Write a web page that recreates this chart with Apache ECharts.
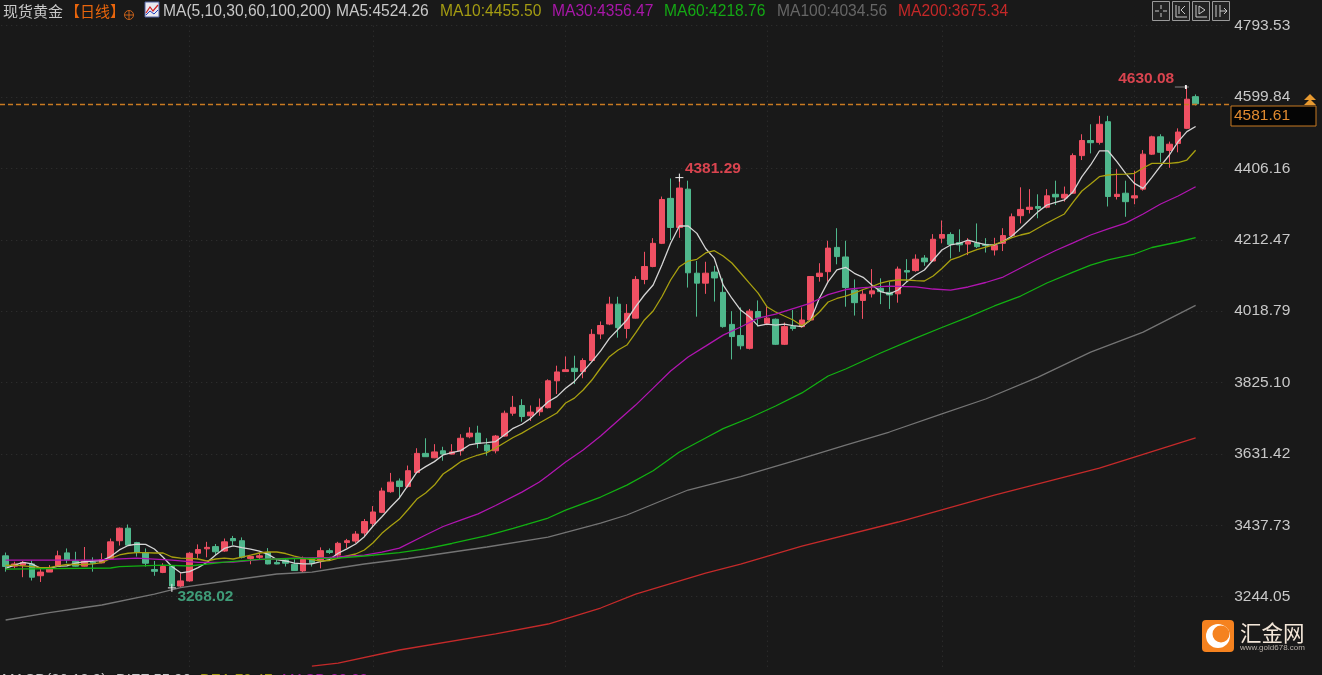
<!DOCTYPE html>
<html lang="zh-CN">
<head>
    <meta charset="UTF-8">
    <title>现货黄金 日线</title>
    <style>
        html, body { margin: 0; padding: 0; background: #191919; overflow: hidden; }
        #main { width: 1322px; height: 675px; }
    </style>
</head>
<body>
<div id="main"></div>
<script src="https://cdn.jsdelivr.net/npm/echarts@6/dist/echarts.min.js"></script>
<script>
    const yTicks = [3244.05, 3437.73, 3631.42, 3825.10, 4018.79, 4212.47, 4406.16, 4599.84, 4793.53]
    const monthStarts = [21, 42, 64, 87, 107, 129]
    const lastPrice = 4581.61

    // open, close, low, high
    const candles = [
        [3355,3326,3312,3364],[3327,3333,3321,3339],[3330,3337,3297,3341],[3333,3297,3288,3342],[3301,3311,3284,3321],
        [3311,3321,3311,3330],[3326,3355,3326,3369],[3363,3344,3335,3375],[3341,3327,3326,3366],[3327,3341,3326,3379],
        [3338,3335,3312,3351],[3336,3345,3335,3362],[3348,3393,3344,3402],[3396,3430,3383,3432],[3430,3384,3383,3440],
        [3391,3364,3353,3393],[3364,3335,3326,3375],[3318,3313,3301,3341],[3310,3326,3308,3335],[3326,3273,3268.02,3328],
        [3273,3287,3269.5,3308],[3287,3362,3285,3365],[3362,3372,3348,3386],[3374,3378,3351,3393],[3380,3366,3357,3387],
        [3368,3393,3366,3402],[3402,3396,3384,3409],[3396,3351,3348,3405],[3348,3353,3332,3355],[3351,3355,3344,3362],
        [3364.5,3333,3332,3376],[3337,3333,3332,3345.5],[3344,3335,3326,3348],[3332,3315,3314,3345.5],[3314,3345.5,3311,3353],
        [3345,3336,3326,3347],[3344,3369,3321,3378],[3369,3364,3360,3375],[3357,3389,3348,3393],[3391,3396,3376,3401],
        [3395,3414,3390,3422],[3417,3448,3407,3455],[3443,3474,3436,3490],[3473,3531,3471,3540],[3529,3555,3526,3580],
        [3558,3543,3511,3565],[3543,3586,3540,3600],[3581,3633,3579,3647],[3633,3624,3624,3674],[3621,3637,3620,3658],
        [3640,3631,3613,3651],[3631,3637,3630,3658],[3640,3674,3627,3685],[3678,3688,3674,3704],[3688,3660,3647,3708],
        [3656,3640,3627,3674],[3640,3680,3633,3683],[3680,3742,3678,3749],[3742,3758,3735,3789],[3763,3733,3719,3780],
        [3735,3745,3721,3763],[3746,3758,3735,3782],[3757,3830,3755,3834],[3830,3854,3794,3871],[3855,3860,3855,3896],
        [3864,3855,3821,3898],[3855,3885,3837,3891],[3885,3956,3882,3970],[3957,3980,3943,3991],[3984,4038,3981,4058],
        [4038,3974,3947,4058],[3972,4013,3945,4038],[4000,4105,3999,4114],[4105,4140,4092,4180],[4140,4203,4138,4217],
        [4203,4322,4201,4330],[4325,4246,4212,4379],[4246,4353,4218,4381.29],[4350,4123,4083,4373],[4122,4095,4004,4155],
        [4095,4122,4066,4153],[4125,4109,4045,4142],[4070,3977,3974,4108],[3983,3950,3888,4019],[3953,3925,3915,4029],
        [3918,4019,3915,4025],[4018,4001,3977,4048],[3986,4000,3981,4031],[3997,3929,3927,3999],[3929,3977,3927,3988],
        [3977,3972,3966,4022],[3977,3995,3974,4029],[3995,4113,3993,4114],[4113,4122,4099,4149],[4126,4190,4099,4210],
        [4192,4167,4146,4244],[4166,4083,4031,4210],[4076,4042,4007,4105],[4048,4065,3998,4076],[4066,4074,4056,4133],
        [4081,4072,4038,4108],[4070,4063,4025,4099],[4066,4133,4042,4140],[4129,4125,4097,4160],[4129,4160,4126,4173],
        [4163,4153,4142,4171],[4155,4214,4153,4228],[4217,4227,4203,4265],[4227,4200,4162,4233],[4205,4199,4180,4241],
        [4201,4208,4171,4217],[4204,4194,4190,4257],[4200,4197,4178,4217],[4185,4197,4170,4218],[4203,4224,4182,4244],
        [4224,4275,4222,4284],[4278,4295,4257,4355],[4295,4301,4284,4350],[4303,4298,4271,4336],[4301,4332,4298,4350],
        [4336,4329,4307,4373],[4326,4336,4316,4357],[4339,4441,4337,4447],[4441,4482,4429,4499],[4482,4476,4447,4526],
        [4477,4526,4471,4549],[4533,4330,4303,4549],[4330,4336,4322,4404],[4339,4316,4275,4373],[4326,4332,4309,4400],
        [4350,4445,4346,4456],[4445,4492,4443,4495],[4492,4450,4423,4499],[4455,4472,4408,4479],[4474,4505,4450,4515],
        [4515,4594,4513,4630.08],[4601,4581.61,4577,4607]
    ]

    const ma5 = [
        3321,3330,3337,3333,3321,3321,3327,3328,3335,3339,3341,3342,3353,3371,3383,3387,3386,3373.5,3351,3326,
        3309,3312,3323,3337,3357,3375,3382,3377,3373,3368,3359,3345,3341,3335,3333,3333,3339,3345,3362,3374,
        3387,3407,3436,3461,3487.5,3512,3547,3582,3597,3610.6,3628.7,3635,3640.4,3655.8,3660,3662,3665,3683,3701,3712,
        3728,3750.8,3773,3787,3809.6,3827.7,3854.8,3882,3911,3945,3970,3995,4031,4062.8,4090,4144,4203,4250,4250,4230,
        4189,4162,4090,4054,4022,4004,3979,3984,3981,3984,3979.6,3977,3995,4054,4099,4130.7,4138,4121.6,4110.8,4090,
        4072,4065.6,4076.4,4099,4117,4130.7,4157.8,4185,4198.5,4203,4212,4204.8,4199.4,4198.5,4207.5,4222.9,4243.7,4266.3,4289,4307,
        4314,4320.6,4343,4383.9,4415.6,4453.6,4453.6,4424.6,4393,4365.8,4352,4382,4412.9,4442.7,4478.9,4506,4520
    ]
    const ma10 = [
        3328.8,3330,3328,3325.5,3322.8,3322.8,3328,3331.5,3331.5,3331.5,3333,3336.4,3348.3,3357.3,3362,3363.5,3363.5,3362.7,3362.7,3351.8,
        3349,3348.3,3346.4,3341,3346.4,3349,3346.4,3351.8,3357.2,3362.7,3365.4,3365.4,3361.3,3354.5,3349,3345,3341,3342.3,3349,3354.6,
        3360,3370.8,3390.6,3416,3436,3454,3480.7,3509,3525.5,3547,3577,3593,3610.5,3620.5,3628.6,3634.9,3647.6,3662,3676,3688,
        3701.9,3715.4,3729,3742.6,3769.7,3783,3805,3832,3864.7,3895.4,3913.5,3927,3959.7,3995,4019.4,4058,4103.5,4139.6,4155,4159.7,
        4176.8,4183,4168.6,4149.6,4122.5,4095,4068,4031,4016.7,4005.8,3995,3979.5,3995,4016.7,4043.8,4053.3,4060,4068,4077.7,4085.3,
        4095.3,4100.8,4103.5,4103.5,4102,4100.8,4114.3,4134.7,4157.8,4166,4176.8,4186,4193,4199.8,4208,4218.3,4225.6,4231,4244.6,4258,
        4270.4,4282.6,4315,4345,4364,4383.8,4388.4,4390,4391,4393,4407.4,4420,4420,4420,4422.3,4429,4455.5
    ]
    // slower averages, read every few bars: [bar index, value]
    const ma30 = [
        [0,3343.6],[10,3343.6],[15,3349],[19,3343.6],[22,3337],[26,3338],[29,3345],[33,3349],[37,3350.5],[41,3357.2],[43,3365],[45,3376],
        [48,3411.5],[50,3434.6],[52,3452],[54,3469],[56,3491.6],[59,3528],[61,3555.4],[62,3573],[64,3609.6],[66,3642],[68,3680],[70,3722],
        [72,3764],[74,3810],[76,3856.6],[78,3894.5],[80,3924],[82,3954],[84,3976],[86,4000],[88,4011],[90,4026],[92,4041],[94,4064],
        [96,4077.7],[98,4083],[101,4087],[104,4085],[106,4079],[108,4076],[110,4084.5],[112,4096.7],[114,4111.6],[116,4136],[118,4160.5],
        [120,4183.6],[122,4204],[124,4225.6],[126,4241.9],[128,4258],[130,4282.6],[132,4309.7],[134,4331.4],[136,4356.47]
    ]
    const ma60 = [
        [0,3319.2],[12,3322],[13,3325.5],[18,3330],[21,3327.4],[25,3338],[29,3345.5],[33,3347.8],[38,3349],[41,3354.5],[45,3363.5],[48,3373.6],
        [51,3388.5],[55,3409.6],[58,3429.7],[62,3457.6],[64,3479],[68,3514.6],[71,3547],[74,3586],[77,3636.8],[80,3674.7],[82,3700],[85,3729],
        [88,3761.6],[91,3797],[94,3843],[96,3862],[100,3905.4],[104,3946],[107,3974.6],[110,4003],[113,4033],[116,4060],[119,4095.3],[122,4125],
        [124,4144],[126,4157.8],[129,4174],[131,4191.7],[134,4206.6],[136,4218.76]
    ]
    const ma100 = [
        [0,3180.9],[5,3200.7],[9,3214.8],[11,3221.6],[17,3251.4],[20,3269],[26,3289.4],[31,3305.7],[35,3311],[38,3322],[41,3332.8],[46,3347.8],
        [55,3379],[62,3406],[68,3444],[71,3465.8],[76,3514.6],[78,3533.6],[84,3569.7],[90,3612],[96,3655.7],[101,3691],[107,3739.9],[112,3780.6],
        [118,3840],[124,3908],[130,3962],[136,4034.56]
    ]
    const ma200 = [
        [35,3056],[38,3064],[45,3099.5],[56,3143],[62,3170],[68,3213.4],[72,3251],[80,3308],[84,3332.8],[91,3381.6],[102,3446.8],[113,3520],
        [125,3593],[136,3675.34]
    ]

    // 137 bars plus three empty slots before the price scale
    const categories = Array.from({length: 140}, (_, i) => String(i))

    const RED = '#ef5063'
    const GREEN = '#4fb78c'
    const ORANGE = '#c87a22'
    const FONT = '"Liberation Sans", Arial, sans-serif'
    const CJK = '"Noto Sans CJK SC", sans-serif'

    function maSeries(name, data, color) {
        return {
            name: name,
            type: 'line',
            data: data,
            showSymbol: false,
            silent: true,
            connectNulls: true,
            lineStyle: {color: color, width: 1.3},
            z: 3
        }
    }

    function headText(x, text, color, font) {
        return {
            type: 'text', x: x, y: 11.5,
            style: {text: text, fill: color, font: font || '15.6px ' + FONT, verticalAlign: 'middle'}
        }
    }

    function toolButton(x) {
        return {
            type: 'rect', shape: {x: x, y: 1.5, width: 17, height: 19},
            style: {fill: '#222', stroke: '#9a9a9a', lineWidth: 1}
        }
    }

    // stroke-only bits of the small icons
    function stroke(points, color, width) {
        return {type: 'polyline', shape: {points: points}, style: {fill: 'none', stroke: color || '#c8c8c8', lineWidth: width || 1}}
    }

    let chart = echarts.init(document.querySelector('#main'))
    chart.setOption({
        backgroundColor: '#191919',
        animation: false,
        grid: {left: 1.25, width: 1225, top: 25.7, height: 642.4},
        xAxis: {
            type: 'category',
            data: categories,
            axisLine: {show: false},
            axisLabel: {show: false},
            axisTick: {show: false, alignWithLabel: true},
            splitLine: {
                show: true,
                alignWithLabel: true,
                interval: i => monthStarts.includes(i),
                lineStyle: {color: '#333', type: [1, 4]}
            }
        },
        yAxis: {
            type: 'value',
            position: 'right',
            min: 3050.365,
            max: 4793.53,
            axisLine: {show: false},
            axisTick: {show: false, customValues: yTicks},
            axisLabel: {
                customValues: yTicks,
                margin: 8,
                color: '#c8c8c8',
                fontFamily: FONT,
                fontSize: 15.5,
                formatter: v => v.toFixed(2)
            },
            splitLine: {
                show: true,
                customValues: yTicks,
                lineStyle: {color: '#333', type: [1, 4]}
            }
        },
        series: [
            {
                type: 'candlestick',
                data: candles,
                barWidth: 6,
                silent: true,
                itemStyle: {color: RED, color0: GREEN, borderColor: RED, borderColor0: GREEN, borderWidth: 1},
                markLine: {
                    silent: true,
                    symbol: 'none',
                    label: {show: false},
                    lineStyle: {color: ORANGE, type: [5, 3], width: 1.3},
                    data: [[{x: 0, yAxis: lastPrice}, {x: 1231, yAxis: lastPrice}]]
                },
                markPoint: {
                    silent: true,
                    symbol: 'path://M0 4H8M4 0V8',
                    symbolSize: 8,
                    itemStyle: {color: 'none', borderColor: '#f0f0f0', borderWidth: 1},
                    label: {fontFamily: FONT, fontSize: 15.5, fontWeight: 'bold'},
                    data: [
                        {
                            coord: [77, 4381.29],
                            label: {formatter: '4381.29', color: '#d9444f', position: 'right', offset: [-6, -9]}
                        },
                        {
                            coord: [19, 3268.02],
                            label: {formatter: '3268.02', color: '#3f9c78', position: 'right', offset: [-6, 9]}
                        },
                        {
                            coord: [135, 4630.08],
                            symbol: 'path://M0 2H14M11 0V4',
                            symbolSize: [14, 4],
                            symbolOffset: [-5, 1],
                            label: {formatter: '4630.08', color: '#d9444f', position: 'left', offset: [9, -8]}
                        }
                    ]
                }
            },
            maSeries('MA5', ma5, '#d4d4d4'),
            maSeries('MA10', ma10, '#a8a010'),
            maSeries('MA30', ma30, '#b015b0'),
            maSeries('MA60', ma60, '#12b012'),
            maSeries('MA100', ma100, '#747474'),
            maSeries('MA200', ma200, '#c42a2a')
        ],
        graphic: [
            headText(3, '现货黄金', '#c8c8c8', '15px ' + CJK),
            headText(65, '【日线】', '#e8650c', '15px ' + CJK),
            {type: 'circle', shape: {cx: 129, cy: 15, r: 4.5}, style: {fill: 'none', stroke: '#c8621a', lineWidth: 1}},
            stroke([[124.5, 15], [133.5, 15]], '#c8621a'),
            stroke([[129, 10.5], [129, 19.5]], '#c8621a'),
            {type: 'rect', shape: {x: 145, y: 2, width: 14, height: 15}, style: {fill: '#e8e8f0', stroke: '#5060a0', lineWidth: 1}},
            stroke([[146, 13], [150, 7], [153, 11], [158, 5]], '#d02020', 1.2),
            stroke([[146, 15], [150, 11], [154, 14], [158, 10]], '#2040c0'),
            headText(163, 'MA(5,10,30,60,100,200)', '#c8c8c8'),
            headText(336, 'MA5:4524.26', '#c8c8c8'),
            headText(440, 'MA10:4455.50', '#a49c12'),
            headText(552, 'MA30:4356.47', '#a817a8'),
            headText(664, 'MA60:4218.76', '#14a814'),
            headText(777, 'MA100:4034.56', '#666666'),
            headText(898, 'MA200:3675.34', '#c42828'),
            toolButton(1152.5), toolButton(1172.5), toolButton(1192.5), toolButton(1212.5),
            stroke([[1161, 5], [1161, 9]]), stroke([[1161, 13], [1161, 17]]),
            stroke([[1155, 11], [1159, 11]]), stroke([[1163, 11], [1167, 11]]),
            stroke([[1176, 5], [1176, 17], [1187, 17]]), stroke([[1179, 6], [1179, 14]]), stroke([[1185, 6], [1181, 10], [1185, 14]]),
            stroke([[1196, 5], [1196, 17], [1207, 17]]), stroke([[1199, 6], [1199, 14], [1205, 10], [1199, 6]]),
            stroke([[1216, 5], [1216, 17]]), stroke([[1220, 5], [1220, 17]]), stroke([[1220, 11], [1227, 11]]), stroke([[1224, 8], [1227, 11], [1224, 14]]),
            {type: 'rect', shape: {x: 1231, y: 106, width: 85, height: 20}, style: {fill: '#050505', stroke: ORANGE, lineWidth: 1}},
            {
                type: 'text', x: 1234, y: 116,
                style: {text: lastPrice.toFixed(2), fill: '#e08a30', font: '15.5px ' + FONT, verticalAlign: 'middle'}
            },
            {type: 'polygon', shape: {points: [[1310, 94], [1316, 100], [1304, 100]]}, style: {fill: '#e89a30'}},
            {type: 'polygon', shape: {points: [[1310, 99], [1316, 105], [1304, 105]]}, style: {fill: '#e89a30'}},
            // clipped lower pane caption, only the tops of the letters reach the window
            {type: 'text', x: 2, y: 680, style: {text: 'MACD(26,12,9)', fill: '#c8c8c8', font: '15px ' + FONT, verticalAlign: 'middle'}},
            {type: 'text', x: 116, y: 680, style: {text: 'DIFF:55.90', fill: '#c8c8c8', font: '15px ' + FONT, verticalAlign: 'middle'}},
            {type: 'text', x: 200, y: 680, style: {text: 'DEA:70.47', fill: '#a49c12', font: '15px ' + FONT, verticalAlign: 'middle'}},
            {type: 'text', x: 282, y: 680, style: {text: 'MACD:28.33', fill: '#a817a8', font: '15px ' + FONT, verticalAlign: 'middle'}},
            // watermark
            {type: 'rect', shape: {x: 1202, y: 620, width: 32, height: 32, r: 4}, style: {fill: '#f5821f'}},
            {type: 'circle', shape: {cx: 1218, cy: 636, r: 12}, style: {fill: '#fff'}},
            {type: 'circle', shape: {cx: 1221, cy: 634, r: 8.5}, style: {fill: '#f5821f'}},
            {type: 'text', x: 1240, y: 633, style: {text: '汇金网', fill: '#f3e6d8', font: '21.5px ' + CJK, verticalAlign: 'middle'}},
            {type: 'text', x: 1240, y: 648, style: {text: 'www.gold678.com', fill: '#b8b0a8', font: '8px ' + FONT, verticalAlign: 'middle'}}
        ]
    })
</script>
</body>
</html>
